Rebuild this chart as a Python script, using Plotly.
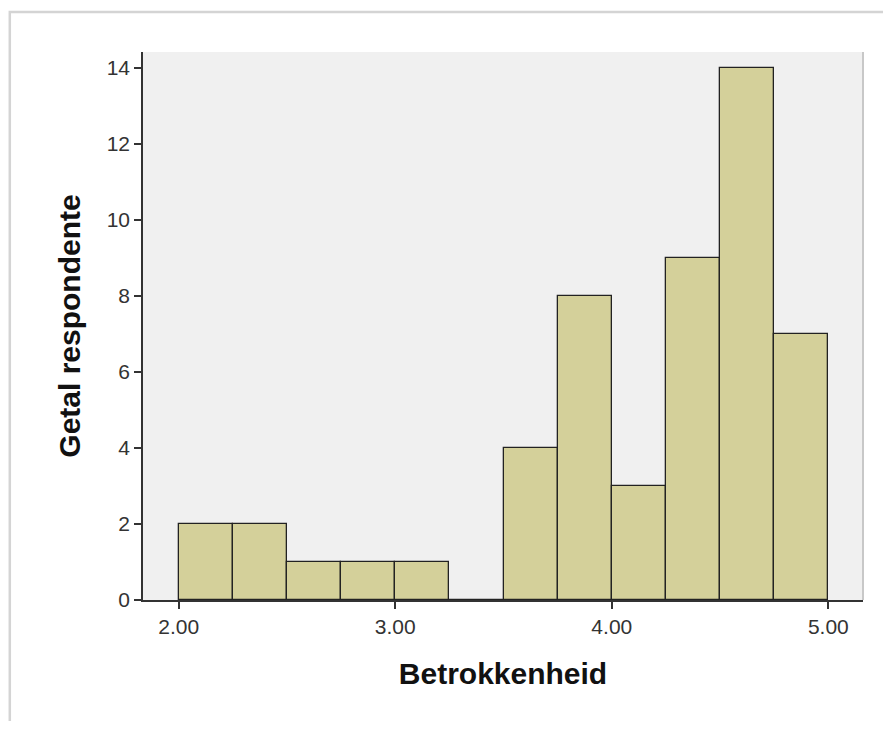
import plotly.graph_objects as go

# Histogram bins (width 0.25) and counts
bin_edges = [2.00, 2.25, 2.50, 2.75, 3.00, 3.25, 3.50, 3.75, 4.00, 4.25, 4.50, 4.75, 5.00]
counts = [2, 2, 1, 1, 1, 0, 4, 8, 3, 9, 14, 7]
x_ticks = [2.0, 3.0, 4.0, 5.0]
y_ticks = [0, 2, 4, 6, 8, 10, 12, 14]

centers = [(a + b) / 2 for a, b in zip(bin_edges[:-1], bin_edges[1:])]
widths = [b - a for a, b in zip(bin_edges[:-1], bin_edges[1:])]

fig = go.Figure()

fig.add_trace(go.Bar(
    x=centers,
    y=counts,
    width=widths,
    marker=dict(color='#d4d09a', line=dict(color='#222222', width=1.3)),
    hoverinfo='x+y',
    showlegend=False
))

font_family = 'Arial, Liberation Sans, sans-serif'

# Outer frame around the whole picture
fig.add_shape(
    type='rect', xref='paper', yref='paper',
    x0=-0.185, x1=1.06, y0=-0.26, y1=1.073,
    line=dict(color='#d4d4d4', width=2.5),
    fillcolor='rgba(0,0,0,0)',
    layer='below'
)
# subtle right border on plot area
fig.add_shape(
    type='line', xref='paper', yref='paper',
    x0=1.0, x1=1.0, y0=0, y1=1,
    line=dict(color='#c8c8c8', width=2)
)

# the page body adds 8px around the figure
fig.update_layout(
    width=875,
    height=713,
    margin=dict(l=135, r=20, t=44, b=121),
    paper_bgcolor='white',
    plot_bgcolor='#f0f0f0',
    font=dict(family=font_family, color='#333333', size=14),
    bargap=0,
    xaxis=dict(
        range=[1.835, 5.16],
        tickvals=x_ticks,
        tickformat='.2f',
        ticks='outside',
        ticklen=7,
        tickwidth=1.5,
        tickcolor='#333333',
        showgrid=False,
        zeroline=False,
        showline=True,
        linecolor='#333333',
        linewidth=1.5,
        tickfont=dict(size=21, color='#333333'),
        title=dict(text='<b>Betrokkenheid</b>', standoff=26,
                   font=dict(size=30, color='#111111')),
        automargin=False
    ),
    yaxis=dict(
        range=[0, 14.42],
        tickvals=y_ticks,
        ticks='outside',
        ticklen=7,
        tickwidth=1.5,
        tickcolor='#333333',
        showgrid=False,
        zeroline=False,
        showline=True,
        linecolor='#333333',
        linewidth=1.5,
        tickfont=dict(size=21, color='#333333'),
        title=dict(text='<b>Getal respondente</b>', standoff=17,
                   font=dict(size=30, color='#111111')),
        automargin=False
    )
)

fig.write_html("out.html")
